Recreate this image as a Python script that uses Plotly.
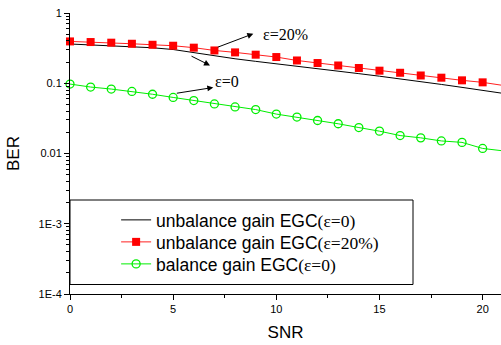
import plotly.graph_objects as go

snr = list(range(0, 22))

ber_unbal_0 = [0.362, 0.353, 0.344, 0.333, 0.320, 0.302, 0.272, 0.243, 0.223, 0.205,
               0.190, 0.175, 0.161, 0.149, 0.137, 0.126, 0.116, 0.106, 0.0962, 0.0874,
               0.0793, 0.0717]
ber_unbal_20 = [0.394, 0.386, 0.378, 0.365, 0.353, 0.342, 0.321, 0.293, 0.275, 0.255,
                0.236, 0.211, 0.194, 0.179, 0.165, 0.151, 0.141, 0.129, 0.120, 0.110,
                0.103, 0.093]
ber_bal_0 = [0.0974, 0.0883, 0.0827, 0.0764, 0.0697, 0.0628, 0.0567, 0.0507, 0.0460, 0.0422,
             0.0364, 0.0330, 0.0295, 0.0265, 0.0234, 0.0208, 0.0180, 0.0167, 0.0151, 0.0144,
             0.0118, 0.0109]

y_tickvals = [1e-4, 1e-3, 1e-2, 1e-1, 1]
y_ticktext = ["1E-4", "1E-3", "0.01", "0.1", "1"]
x_tickvals = [0, 5, 10, 15, 20]

SERIF = "Times New Roman"
SANS = "Liberation Sans"

def lbl(main, eps):
    return f'{main}<span style="font-family:{SERIF}">({eps})</span>'

fig = go.Figure()
fig.add_trace(go.Scatter(
    x=snr, y=ber_unbal_0, mode="lines", name=lbl("unbalance gain EGC", "ε=0"),
    line=dict(color="black", width=1), cliponaxis=False, legend="legend"))
fig.add_trace(go.Scatter(
    x=snr, y=ber_unbal_20, mode="lines+markers", name=lbl("unbalance gain EGC", "ε=20%"),
    line=dict(color="#ff2020", width=1),
    marker=dict(symbol="square", size=8, color="red", line=dict(width=0)),
    cliponaxis=False, legend="legend2"))
fig.add_trace(go.Scatter(
    x=snr, y=ber_bal_0, mode="lines+markers", name=lbl("balance gain EGC", "ε=0"),
    line=dict(color="#00ee00", width=1),
    marker=dict(symbol="circle-open", size=8, color="#00ee00", line=dict(width=1.3)),
    cliponaxis=False, legend="legend3"))

minor_y = [m * 10 ** e for e in range(-4, 0) for m in range(2, 10)]

def leg(ypix):
    return dict(
        x=0.107, y=(294 - ypix) / 281, xanchor="left", yanchor="middle",
        bgcolor="rgba(0,0,0,0)", borderwidth=0,
        font=dict(family=SANS, size=17.5, color="black"),
    )

fig.update_layout(
    width=501, height=345,
    margin=dict(l=70, r=0, t=13, b=51),
    paper_bgcolor="white", plot_bgcolor="white",
    font=dict(family=SANS, color="black"),
    showlegend=True,
    legend=leg(220), legend2=leg(242), legend3=leg(264),
    xaxis=dict(
        range=[0, 20.89], showgrid=False, zeroline=False,
        showline=True, linecolor="black", linewidth=1,
        tickvals=x_tickvals, ticks="outside", ticklen=5, tickcolor="black",
        tickfont=dict(size=11, family=SANS),
        minor=dict(dtick=2.5, ticks="outside", ticklen=3, tickcolor="black", showgrid=False),
        title=dict(text="SNR", font=dict(size=17, family=SANS), standoff=11),
    ),
    yaxis=dict(
        type="log", range=[-4, 0], showgrid=False, zeroline=False,
        showline=True, linecolor="black", linewidth=1,
        tickvals=y_tickvals, ticktext=y_ticktext,
        ticks="outside", ticklen=5, tickcolor="black",
        tickfont=dict(size=11, family=SANS),
        minor=dict(tickvals=minor_y, ticks="outside", ticklen=3, tickcolor="black", showgrid=False),
        title=dict(text="BER", font=dict(size=17, family=SANS), standoff=14),
    ),
)

# legend frame
fig.add_shape(type="rect", xref="paper", yref="paper",
              x0=0, x1=(413 - 70) / 431, y0=(294 - 284.5) / 281, y1=(294 - 200) / 281,
              line=dict(color="black", width=1), fillcolor="rgba(0,0,0,0)", layer="above")

# arrows and labels
arrows = [
    (8.885, -0.295, -37, 14),
    (6.786, -0.746, -20, -10),
    (6.946, -1.060, -38, 6),
]
for ax_x, ax_y, dx, dy in arrows:
    fig.add_annotation(x=ax_x, y=ax_y, xref="x", yref="y", text="",
                       showarrow=True, ax=dx, ay=dy, axref="pixel", ayref="pixel",
                       arrowhead=2, arrowsize=1.2, arrowwidth=1, arrowcolor="black")

fig.add_annotation(x=9.24, y=-0.309, xref="x", yref="y", text="ε=20%", showarrow=False,
                   xanchor="left", yanchor="middle", font=dict(family=SERIF, size=16, color="black"))
fig.add_annotation(x=6.95, y=-0.974, xref="x", yref="y", text="ε=0", showarrow=False,
                   xanchor="left", yanchor="middle", font=dict(family=SERIF, size=16, color="black"))

fig.write_html("out.html")
